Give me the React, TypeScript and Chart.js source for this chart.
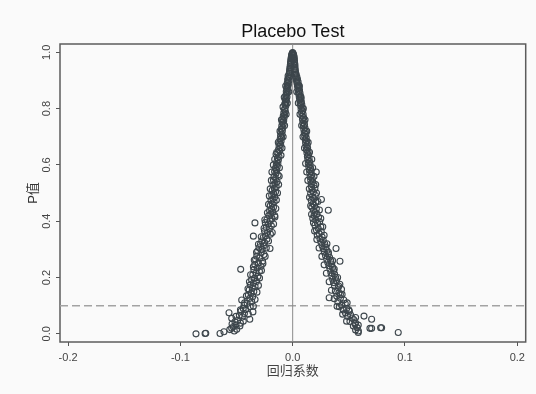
import React, { useEffect, useRef } from "react";
import { Chart, registerables } from "chart.js";

Chart.register(...registerables);

const chartTitle = "Placebo Test";
const xAxisTitle = "回归系数";
const yAxisTitle = "P值";
const xTickValues = [-0.2, -0.1, 0, 0.1, 0.2];
const yTickValues = [0, 0.2, 0.4, 0.6, 0.8, 1.0];
const xRange = [-0.2072, 0.2075];
const yRange = [-0.029, 1.0295];
const pThreshold = 0.1;
const zeroCoefficient = 0;

// [coefficient, p-value]
const peakPoints: [number, number][] = [
  [0.0, 0.999], [-0.0003, 0.997], [0.0004, 0.996], [-0.0006, 0.994], [0.0007, 0.992],
  [-0.0009, 0.99], [0.001, 0.988], [-0.0011, 0.985], [0.0012, 0.983], [-0.0013, 0.98],
  [0.0014, 0.978], [-0.0015, 0.975], [0.0015, 0.972], [-0.0017, 0.969], [0.0016, 0.966],
  [-0.0019, 0.963], [0.0018, 0.96], [-0.002, 0.957], [0.002, 0.954], [-0.0022, 0.951],
  [0.0019, 0.948], [-0.0024, 0.945], [0.0021, 0.942], [-0.0026, 0.939], [0.0023, 0.936],
  [-0.0027, 0.933], [0.0025, 0.93], [-0.0029, 0.927], [0.0026, 0.924], [-0.0008, 0.981],
  [0.0006, 0.975], [-0.0012, 0.962], [0.0011, 0.955], [-0.0016, 0.944], [0.0013, 0.938],
  [-0.0004, 0.99], [0.0002, 0.993],
];

const leftUpperPoints: [number, number][] = [
  [-0.0033, 0.921], [-0.0041, 0.916], [-0.003, 0.912], [-0.0038, 0.908], [-0.0045, 0.903],
  [-0.0034, 0.899], [-0.0042, 0.894], [-0.0049, 0.89], [-0.0038, 0.885], [-0.0046, 0.88],
  [-0.0053, 0.875], [-0.0043, 0.871], [-0.005, 0.866], [-0.0057, 0.861], [-0.0047, 0.856],
  [-0.0055, 0.851], [-0.0062, 0.846], [-0.0051, 0.841], [-0.0059, 0.836], [-0.0066, 0.831],
  [-0.0056, 0.826], [-0.0064, 0.821], [-0.0071, 0.816], [-0.006, 0.811], [-0.0086, 0.806],
  [-0.0068, 0.801], [-0.0075, 0.796], [-0.0065, 0.79], [-0.0079, 0.785], [-0.0071, 0.779],
  [-0.0084, 0.774], [-0.0076, 0.768], [-0.0089, 0.762], [-0.008, 0.757], [-0.0093, 0.751],
  [-0.0084, 0.745], [-0.0097, 0.739], [-0.0088, 0.733], [-0.0101, 0.727], [-0.0092, 0.721],
  [-0.0105, 0.715], [-0.0095, 0.709], [-0.0108, 0.703], [-0.0099, 0.697], [-0.0112, 0.691],
  [-0.0103, 0.685], [-0.0116, 0.679], [-0.0107, 0.673], [-0.0121, 0.667], [-0.0111, 0.661],
  [-0.0126, 0.655], [-0.0116, 0.649], [-0.0131, 0.643], [-0.0148, 0.638], [-0.0104, 0.634],
  [-0.0122, 0.63], [-0.0136, 0.624], [-0.0127, 0.618], [-0.0141, 0.612], [-0.0132, 0.606],
  [-0.0146, 0.6], [-0.0137, 0.594], [-0.0155, 0.588], [-0.0142, 0.582], [-0.0161, 0.576],
  [-0.0148, 0.57], [-0.013, 0.564], [-0.0166, 0.558], [-0.0152, 0.552], [-0.0171, 0.546],
  [-0.0139, 0.54], [-0.0158, 0.534], [-0.0176, 0.528], [-0.0147, 0.522], [-0.0163, 0.516],
  [-0.0182, 0.51], [-0.0153, 0.504], [-0.017, 0.498], [-0.0187, 0.492], [-0.016, 0.486],
  [-0.0176, 0.48], [-0.0193, 0.474], [-0.0165, 0.468], [-0.0182, 0.462], [-0.0199, 0.456],
  [-0.0171, 0.45],
  [-0.0062, 0.88], [-0.0035, 0.86], [-0.0075, 0.84], [-0.0048, 0.82], [-0.0058, 0.78],
  [-0.01, 0.76], [-0.0072, 0.74], [-0.0113, 0.72], [-0.0085, 0.7], [-0.0128, 0.68],
  [-0.0095, 0.66], [-0.0142, 0.645],
];

const leftLowerPoints: [number, number][] = [
  [-0.0188, 0.444], [-0.0206, 0.438], [-0.0177, 0.432], [-0.0195, 0.426], [-0.0213, 0.42],
  [-0.0158, 0.415], [-0.0184, 0.41], [-0.0229, 0.405], [-0.0201, 0.4], [-0.0244, 0.395],
  [-0.0336, 0.394], [-0.0218, 0.39], [-0.019, 0.384], [-0.0235, 0.378], [-0.0207, 0.372],
  [-0.0251, 0.366], [-0.0224, 0.36], [-0.0198, 0.354], [-0.0242, 0.348], [-0.035, 0.347],
  [-0.0262, 0.342], [-0.023, 0.336], [-0.0275, 0.33], [-0.025, 0.324], [-0.0287, 0.318],
  [-0.0261, 0.312], [-0.03, 0.306], [-0.0202, 0.303], [-0.0272, 0.3], [-0.0312, 0.294],
  [-0.0281, 0.288], [-0.0255, 0.282], [-0.032, 0.276], [-0.0293, 0.27], [-0.033, 0.264],
  [-0.0268, 0.258], [-0.0305, 0.252], [-0.0338, 0.246], [-0.0282, 0.24], [-0.0316, 0.234],
  [-0.0463, 0.229], [-0.0346, 0.228], [-0.0296, 0.222], [-0.0327, 0.216], [-0.0355, 0.21],
  [-0.031, 0.204], [-0.0339, 0.198], [-0.0366, 0.192], [-0.0322, 0.186], [-0.035, 0.18],
  [-0.0377, 0.174], [-0.0335, 0.168], [-0.036, 0.162], [-0.0387, 0.156], [-0.0346, 0.15],
  [-0.0371, 0.144], [-0.0395, 0.138], [-0.0357, 0.132], [-0.0382, 0.126], [-0.0454, 0.12],
  [-0.0365, 0.114], [-0.0405, 0.108], [-0.0432, 0.102], [-0.0378, 0.096], [-0.044, 0.09],
  [-0.0418, 0.086], [-0.046, 0.08], [-0.0354, 0.078], [-0.0567, 0.075], [-0.043, 0.072],
  [-0.0475, 0.066], [-0.0448, 0.06], [-0.0543, 0.055], [-0.0382, 0.052], [-0.049, 0.048],
  [-0.0514, 0.043], [-0.0465, 0.038], [-0.0505, 0.032], [-0.0529, 0.025], [-0.0543, 0.02],
  [-0.0498, 0.016], [-0.052, 0.01], [-0.0612, 0.0075], [-0.0647, 0.001], [-0.078, 0.001],
  [-0.0774, 0.002], [-0.0861, 0.0],
];

const leftSpreadPoints: [number, number][] = [
  [-0.016, 0.62], [-0.0172, 0.6], [-0.0118, 0.59], [-0.0185, 0.575], [-0.012, 0.56],
  [-0.019, 0.545], [-0.0125, 0.53], [-0.02, 0.515], [-0.0135, 0.5], [-0.0208, 0.49],
  [-0.0145, 0.475], [-0.0215, 0.46], [-0.015, 0.445], [-0.0225, 0.43], [-0.016, 0.42],
  [-0.0248, 0.405], [-0.017, 0.39], [-0.0255, 0.375], [-0.0182, 0.36], [-0.028, 0.345],
  [-0.0215, 0.33], [-0.0305, 0.318], [-0.0235, 0.305], [-0.0322, 0.29], [-0.0245, 0.275],
  [-0.0342, 0.262], [-0.0265, 0.25], [-0.035, 0.238], [-0.0278, 0.225], [-0.0375, 0.21],
  [-0.0295, 0.198], [-0.0385, 0.185], [-0.0305, 0.172], [-0.0398, 0.16], [-0.0318, 0.148],
  [-0.0412, 0.135], [-0.0335, 0.122], [-0.0428, 0.11], [-0.035, 0.098], [-0.0465, 0.085],
  [-0.0395, 0.07], [-0.0505, 0.062], [-0.044, 0.045], [-0.054, 0.035], [-0.047, 0.028],
  [-0.056, 0.015],
];

const rightUpperPoints: [number, number][] = [
  [0.0031, 0.922], [0.0024, 0.917], [0.0037, 0.913], [0.0029, 0.908], [0.0043, 0.904],
  [0.0034, 0.899], [0.0048, 0.895], [0.0039, 0.89], [0.0052, 0.885], [0.0043, 0.88],
  [0.0056, 0.875], [0.0047, 0.87], [0.0061, 0.865], [0.0051, 0.86], [0.0065, 0.855],
  [0.0055, 0.85], [0.0069, 0.845], [0.0059, 0.84], [0.0073, 0.835], [0.0063, 0.83],
  [0.0077, 0.825], [0.0067, 0.82], [0.0081, 0.815], [0.0071, 0.81], [0.0085, 0.804],
  [0.0075, 0.798], [0.0089, 0.792], [0.0079, 0.786], [0.0093, 0.78], [0.0083, 0.774],
  [0.0097, 0.768], [0.0087, 0.762], [0.0101, 0.756], [0.0091, 0.75], [0.0105, 0.744],
  [0.0095, 0.738], [0.0109, 0.732], [0.0099, 0.726], [0.0113, 0.72], [0.0103, 0.714],
  [0.0117, 0.708], [0.0107, 0.702], [0.0121, 0.696], [0.0111, 0.69], [0.0125, 0.684],
  [0.0115, 0.678], [0.0129, 0.672], [0.0119, 0.666], [0.0133, 0.66], [0.0123, 0.654],
  [0.0137, 0.648], [0.0127, 0.642], [0.0141, 0.636], [0.0131, 0.63], [0.0146, 0.624],
  [0.0135, 0.618], [0.015, 0.612], [0.0139, 0.606], [0.0155, 0.6], [0.0143, 0.594],
  [0.016, 0.588], [0.0148, 0.582], [0.0165, 0.576], [0.021, 0.575], [0.0152, 0.57],
  [0.0169, 0.564], [0.0156, 0.558], [0.0174, 0.552], [0.016, 0.546], [0.0178, 0.54],
  [0.0164, 0.534], [0.019, 0.528], [0.0168, 0.522], [0.0198, 0.516], [0.0172, 0.51],
  [0.0185, 0.504], [0.016, 0.498], [0.0202, 0.492], [0.0176, 0.486], [0.019, 0.48],
  [0.0256, 0.477], [0.0166, 0.474], [0.0206, 0.468], [0.0181, 0.462], [0.0195, 0.456],
  [0.0171, 0.45],
  [0.006, 0.88], [0.0036, 0.86], [0.0075, 0.84], [0.005, 0.82], [0.0095, 0.8],
  [0.0065, 0.78], [0.011, 0.76], [0.008, 0.74], [0.0125, 0.72], [0.0092, 0.7],
  [0.0138, 0.68], [0.0105, 0.66], [0.015, 0.645],
];

const rightLowerPoints: [number, number][] = [
  [0.0211, 0.444], [0.0317, 0.439], [0.0185, 0.438], [0.02, 0.432], [0.0216, 0.426],
  [0.019, 0.42], [0.023, 0.414], [0.0179, 0.41], [0.0206, 0.404], [0.024, 0.398],
  [0.0221, 0.392], [0.0198, 0.386], [0.025, 0.38], [0.0228, 0.374], [0.0212, 0.368],
  [0.0255, 0.362], [0.0236, 0.356], [0.0219, 0.35], [0.0262, 0.344], [0.0243, 0.338],
  [0.0272, 0.332], [0.0251, 0.326], [0.0285, 0.32], [0.0262, 0.314], [0.0296, 0.308],
  [0.0386, 0.303], [0.0272, 0.302], [0.0305, 0.296], [0.0282, 0.29], [0.0318, 0.284],
  [0.0292, 0.278], [0.0328, 0.272], [0.0303, 0.266], [0.0338, 0.26], [0.0421, 0.258],
  [0.0312, 0.254], [0.0347, 0.248], [0.0322, 0.242], [0.0356, 0.236], [0.0332, 0.23],
  [0.0365, 0.224], [0.034, 0.218], [0.0373, 0.212], [0.0348, 0.206], [0.0382, 0.2],
  [0.0356, 0.194], [0.039, 0.188], [0.0364, 0.182], [0.042, 0.176], [0.0372, 0.17],
  [0.0405, 0.164], [0.0435, 0.158], [0.038, 0.152], [0.0412, 0.146], [0.044, 0.14],
  [0.0392, 0.134], [0.0325, 0.128], [0.0425, 0.126], [0.0455, 0.12], [0.0402, 0.114],
  [0.0468, 0.108], [0.0435, 0.102], [0.0415, 0.096], [0.048, 0.09], [0.045, 0.085],
  [0.0505, 0.08], [0.047, 0.074], [0.0515, 0.068], [0.0635, 0.063], [0.049, 0.062],
  [0.053, 0.056], [0.0703, 0.052], [0.0545, 0.05], [0.051, 0.044], [0.056, 0.038],
  [0.0584, 0.031], [0.054, 0.028], [0.0575, 0.022], [0.0688, 0.0195], [0.0703, 0.0195],
  [0.0783, 0.0216], [0.0792, 0.0216], [0.056, 0.014], [0.0584, 0.005], [0.094, 0.005],
];

const rightSpreadPoints: [number, number][] = [
  [0.017, 0.62], [0.0115, 0.605], [0.0178, 0.59], [0.0125, 0.575], [0.019, 0.56],
  [0.0135, 0.545], [0.0205, 0.53], [0.0148, 0.515], [0.0212, 0.5], [0.015, 0.485],
  [0.0225, 0.47], [0.016, 0.455], [0.0238, 0.44], [0.0168, 0.425], [0.025, 0.41],
  [0.0185, 0.395], [0.0268, 0.38], [0.0195, 0.365], [0.028, 0.35], [0.0215, 0.335],
  [0.0305, 0.32], [0.0235, 0.305], [0.0318, 0.29], [0.026, 0.275], [0.0355, 0.26],
  [0.028, 0.245], [0.037, 0.23], [0.03, 0.215], [0.04, 0.2], [0.0325, 0.185],
  [0.041, 0.17], [0.0345, 0.155], [0.0425, 0.14], [0.037, 0.125], [0.0485, 0.11],
  [0.0395, 0.098], [0.05, 0.085], [0.0445, 0.07], [0.056, 0.058], [0.048, 0.045],
  [0.0555, 0.035], [0.0585, 0.01],
];

const FONT = '"Liberation Sans", Arial, "Noto Sans CJK SC", sans-serif';

const framePlugin = {
  id: "frameAndTitle",
  beforeDatasetsDraw(chart: any) {
    const { ctx, chartArea } = chart;
    ctx.save();
    ctx.strokeStyle = "#5c5c5c";
    ctx.lineWidth = 1.5;
    ctx.strokeRect(chartArea.left, chartArea.top, chartArea.right - chartArea.left, chartArea.bottom - chartArea.top);
    ctx.restore();
  },
  afterDraw(chart: any) {
    const { ctx, chartArea } = chart;
    ctx.save();
    ctx.fillStyle = "#111111";
    ctx.font = `18px ${FONT}`;
    ctx.textAlign = "center";
    ctx.textBaseline = "middle";
    ctx.fillText(chartTitle, (chartArea.left + chartArea.right) / 2, 32);
    ctx.restore();
  },
};

export default function App() {
  const canvasRef = useRef<HTMLCanvasElement | null>(null);

  useEffect(() => {
    if (!canvasRef.current) return;
    const allPoints = [
      ...peakPoints,
      ...leftUpperPoints,
      ...leftLowerPoints,
      ...leftSpreadPoints,
      ...rightUpperPoints,
      ...rightLowerPoints,
      ...rightSpreadPoints,
    ];
    const chart = new Chart(canvasRef.current, {
      type: "scatter",
      data: {
        datasets: [
          {
            label: "placebo",
            data: allPoints.map(([x, y]) => ({ x, y })),
            pointRadius: 3,
            pointBorderWidth: 1.1,
            pointBackgroundColor: "rgba(0,0,0,0)",
            pointBorderColor: "#3d464c",
            order: 0,
          },
          {
            label: "zero",
            data: [
              { x: zeroCoefficient, y: yRange[0] },
              { x: zeroCoefficient, y: yRange[1] },
            ],
            showLine: true,
            pointRadius: 0,
            borderColor: "#8a8a8a",
            borderWidth: 1,
            order: 1,
          },
          {
            label: "threshold",
            data: [
              { x: xRange[0], y: pThreshold },
              { x: xRange[1], y: pThreshold },
            ],
            showLine: true,
            pointRadius: 0,
            borderColor: "#a3a3a3",
            borderWidth: 1.5,
            borderDash: [8, 4],
            order: 1,
          },
        ] as any,
      },
      options: {
        animation: false,
        responsive: false,
        devicePixelRatio: 1,
        layout: { padding: { top: 44, right: 10.3, left: 0, bottom: 0 } },
        plugins: {
          legend: { display: false },
          tooltip: { enabled: false },
          title: { display: false },
        },
        scales: {
          x: {
            type: "linear",
            min: xRange[0],
            max: xRange[1],
            afterBuildTicks: (s: any) => {
              s.ticks = xTickValues.map((v) => ({ value: v }));
            },
            afterFit: (s: any) => {
              s.height = 52;
            },
            ticks: {
              autoSkip: false,
              maxRotation: 0,
              padding: 5,
              color: "#444444",
              font: { family: FONT, size: 11 },
              callback: (v: any) => Number(v).toFixed(1),
            },
            grid: {
              display: true,
              drawOnChartArea: false,
              drawTicks: true,
              tickLength: 4,
              color: "#555555",
              lineWidth: 1,
            },
            border: { display: false },
            title: {
              display: true,
              text: xAxisTitle,
              color: "#444444",
              font: { family: FONT, size: 13 },
              padding: { top: 0, bottom: 14.6 },
            },
          },
          y: {
            type: "linear",
            min: yRange[0],
            max: yRange[1],
            afterBuildTicks: (s: any) => {
              s.ticks = yTickValues.map((v) => ({ value: v }));
            },
            afterFit: (s: any) => {
              s.width = 60;
            },
            ticks: {
              autoSkip: false,
              minRotation: 90,
              maxRotation: 90,
              crossAlign: "center",
              padding: 1.6,
              color: "#444444",
              font: { family: FONT, size: 11 },
              callback: (v: any) => Number(v).toFixed(1),
            },
            grid: {
              display: true,
              drawOnChartArea: false,
              drawTicks: true,
              tickLength: 4,
              color: "#555555",
              lineWidth: 1,
            },
            border: { display: false },
            title: {
              display: true,
              text: yAxisTitle,
              color: "#333333",
              font: { family: FONT, size: 13 },
              padding: { top: 25.6, bottom: 0 },
            },
          },
        },
      } as any,
      plugins: [framePlugin],
    });
    return () => chart.destroy();
  }, []);

  return (
    <div
      style={{
        position: "fixed",
        left: 0,
        top: 0,
        width: 536,
        height: 394,
        background: "#fafafa",
      }}
    >
      <canvas ref={canvasRef} width={536} height={394} style={{ display: "block" }} />
    </div>
  );
}
